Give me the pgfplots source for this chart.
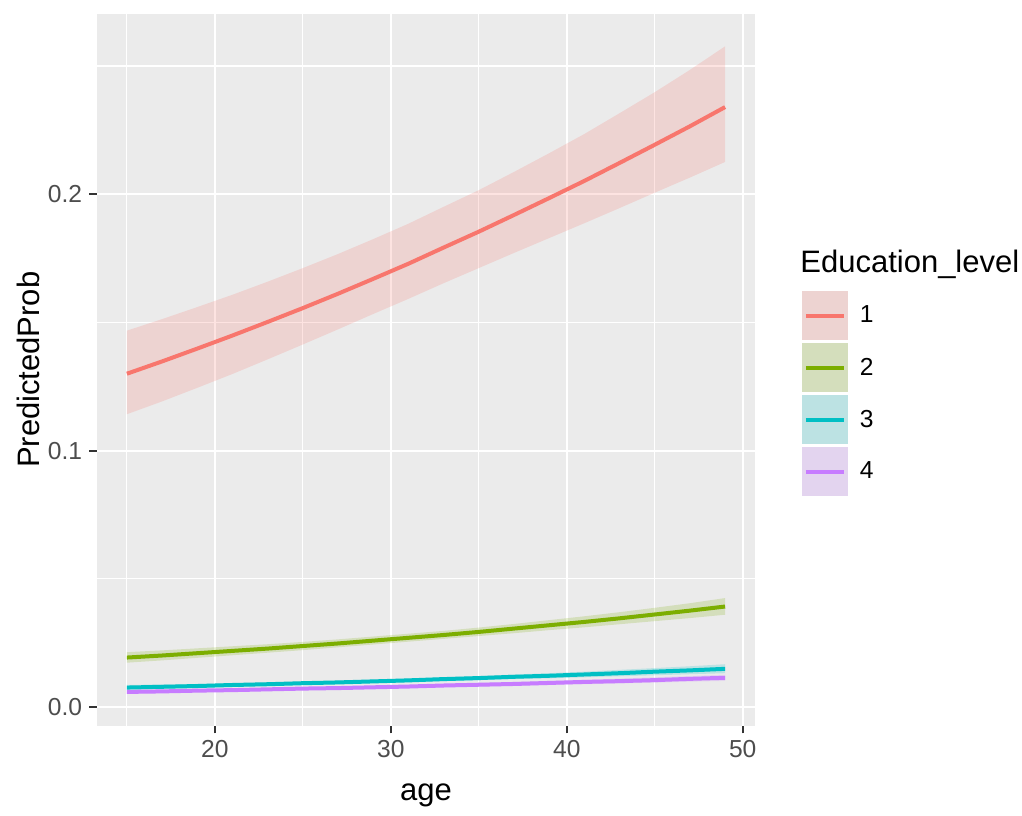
\documentclass[border=0pt]{standalone}
\usepackage{fontspec}
\setmainfont{Liberation Sans}
\usepackage{pgfplots}
\usepackage{pgfplotstable}
\pgfplotsset{compat=1.18}
\usepgfplotslibrary{fillbetween}
\definecolor{panel}{HTML}{EBEBEB}
\definecolor{tickc}{HTML}{333333}
\definecolor{labc}{HTML}{4D4D4D}
\definecolor{c1}{HTML}{F8766D}
\definecolor{c2}{HTML}{7CAE00}
\definecolor{c3}{HTML}{00BFC4}
\definecolor{c4}{HTML}{C77CFF}

\pgfplotstableread{
age mid lo hi
15 0.1300 0.1142 0.1468
17 0.1348 0.1192 0.1513
19 0.1398 0.1245 0.1560
21 0.1449 0.1299 0.1608
23 0.1502 0.1356 0.1659
25 0.1556 0.1414 0.1712
27 0.1612 0.1473 0.1767
29 0.1670 0.1533 0.1825
31 0.1729 0.1592 0.1885
33 0.1792 0.1653 0.1951
35 0.1854 0.1712 0.2016
37 0.1919 0.1771 0.2087
39 0.1985 0.1829 0.2160
41 0.2052 0.1887 0.2235
43 0.2122 0.1946 0.2316
45 0.2193 0.2006 0.2398
47 0.2265 0.2065 0.2485
49 0.2340 0.2126 0.2577
}\edA
\pgfplotstableread{
age mid lo hi
15 0.0193 0.0173 0.0214
17 0.0201 0.0182 0.0221
19 0.0210 0.0192 0.0229
21 0.0219 0.0202 0.0237
23 0.0228 0.0212 0.0245
25 0.0238 0.0222 0.0254
27 0.0248 0.0233 0.0264
29 0.0259 0.0244 0.0275
31 0.0270 0.0255 0.0286
33 0.0281 0.0266 0.0297
35 0.0293 0.0277 0.0310
37 0.0306 0.0288 0.0324
39 0.0319 0.0300 0.0339
41 0.0332 0.0311 0.0354
43 0.0346 0.0323 0.0370
45 0.0361 0.0335 0.0387
47 0.0376 0.0347 0.0405
49 0.0392 0.0360 0.0425
}\edB
\pgfplotstableread{
age mid lo hi
15 0.0076 0.0067 0.0086
17 0.0079 0.0071 0.0088
19 0.0082 0.0075 0.0090
21 0.0086 0.0079 0.0093
23 0.0089 0.0083 0.0096
25 0.0093 0.0087 0.0099
27 0.0096 0.0090 0.0103
29 0.0100 0.0094 0.0107
31 0.0104 0.0097 0.0111
33 0.0109 0.0101 0.0116
35 0.0113 0.0105 0.0121
37 0.0118 0.0109 0.0127
39 0.0122 0.0112 0.0132
41 0.0127 0.0116 0.0138
43 0.0132 0.0120 0.0145
45 0.0138 0.0124 0.0152
47 0.0143 0.0128 0.0159
49 0.0149 0.0132 0.0167
}\edC
\pgfplotstableread{
age mid lo hi
15 0.0059 0.0052 0.0066
17 0.0061 0.0055 0.0068
19 0.0064 0.0058 0.0070
21 0.0066 0.0061 0.0072
23 0.0069 0.0064 0.0075
25 0.0072 0.0066 0.0077
27 0.0074 0.0069 0.0080
29 0.0077 0.0072 0.0083
31 0.0080 0.0074 0.0086
33 0.0084 0.0077 0.0090
35 0.0087 0.0080 0.0094
37 0.0090 0.0083 0.0098
39 0.0094 0.0086 0.0102
41 0.0098 0.0089 0.0106
43 0.0101 0.0092 0.0111
45 0.0105 0.0095 0.0116
47 0.0110 0.0099 0.0121
49 0.0114 0.0102 0.0126
}\edD

\newcommand{\keyimg}[1]{%
  \addlegendimage{legend image code/.code={%
    \path[draw=none, fill=none] (0pt,-13pt) rectangle (23pt,13pt);
    \fill[panel, draw=none] (0pt,-12.25pt) rectangle (23pt,12.25pt);
    \fill[#1, opacity=0.2, draw=none] (0pt,-12.25pt) rectangle (23pt,12.25pt);
    \draw[#1, line width=2pt] (2pt,0pt) -- (21pt,0pt);
  }}%
}

\begin{document}
\begin{tikzpicture}
\begin{axis}[
  at={(0pt,0pt)}, anchor=south west,
  scale only axis, width=329pt, height=355.75pt,
  xmin=13.3, xmax=50.7, ymin=-0.0072, ymax=0.2703,
  axis background/.style={fill=panel},
  axis line style={draw=none},
  xtick={20,30,40,50}, minor xtick={15,25,35,45},
  ytick={0,0.1,0.2}, minor ytick={0.05,0.15,0.25},
  grid=both,
  major grid style={white, line width=1.1pt},
  minor grid style={white, line width=0.55pt},
  tick align=outside, tick pos=left,
  major tick length=3.9pt, minor tick length=0pt,
  tick style={tickc, line width=1.1pt},
  /pgf/number format/assume math mode=true,
  yticklabel style={/pgf/number format/.cd, fixed, fixed zerofill, precision=1},
  ticklabel style={font=\fontsize{12.3}{14}\selectfont, text=labc},
  xlabel={age}, ylabel={PredictedProb},
  label style={font=\fontsize{15.5}{18}\selectfont, text=black},
  xlabel style={at={(axis description cs:0.5,-0.098)}, anchor=center},
  ylabel style={at={(axis description cs:-0.104,0.5)}, anchor=center},
  legend style={name=leg, at={(axis description cs:1.0714,0.6121)}, anchor=north west,
    draw=none, fill=none, inner sep=0pt, outer sep=0pt, row sep=0pt, column sep=6pt,
    font=\fontsize{12.3}{14}\selectfont, nodes={inner sep=0pt, outer sep=0pt}},
  legend cell align=left,
]
\addplot[name path=a1, draw=none, forget plot] table[x=age,y=hi] {\edA};
\addplot[name path=b1, draw=none, forget plot] table[x=age,y=lo] {\edA};
\addplot[c1, fill opacity=0.2, draw=none, forget plot] fill between[of=a1 and b1];
\addplot[name path=a2, draw=none, forget plot] table[x=age,y=hi] {\edB};
\addplot[name path=b2, draw=none, forget plot] table[x=age,y=lo] {\edB};
\addplot[c2, fill opacity=0.2, draw=none, forget plot] fill between[of=a2 and b2];
\addplot[name path=a3, draw=none, forget plot] table[x=age,y=hi] {\edC};
\addplot[name path=b3, draw=none, forget plot] table[x=age,y=lo] {\edC};
\addplot[c3, fill opacity=0.2, draw=none, forget plot] fill between[of=a3 and b3];
\addplot[name path=a4, draw=none, forget plot] table[x=age,y=hi] {\edD};
\addplot[name path=b4, draw=none, forget plot] table[x=age,y=lo] {\edD};
\addplot[c4, fill opacity=0.2, draw=none, forget plot] fill between[of=a4 and b4];
\addplot[c1, line width=2pt, forget plot] table[x=age,y=mid] {\edA};
\addplot[c2, line width=2pt, forget plot] table[x=age,y=mid] {\edB};
\addplot[c3, line width=2pt, forget plot] table[x=age,y=mid] {\edC};
\addplot[c4, line width=2pt, forget plot] table[x=age,y=mid] {\edD};
\keyimg{c1}\addlegendentry{1}
\keyimg{c2}\addlegendentry{2}
\keyimg{c3}\addlegendentry{3}
\keyimg{c4}\addlegendentry{4}
\end{axis}
\node[anchor=base west, inner sep=0pt, font=\fontsize{15.5}{18}\selectfont] at ([xshift=-1pt, yshift=8.5pt]leg.north west) {Education\_level};
\pgfresetboundingbox
\path[use as bounding box] (-48.5pt,-44.75pt) rectangle (462.5pt,362.75pt);
\end{tikzpicture}
\end{document}
